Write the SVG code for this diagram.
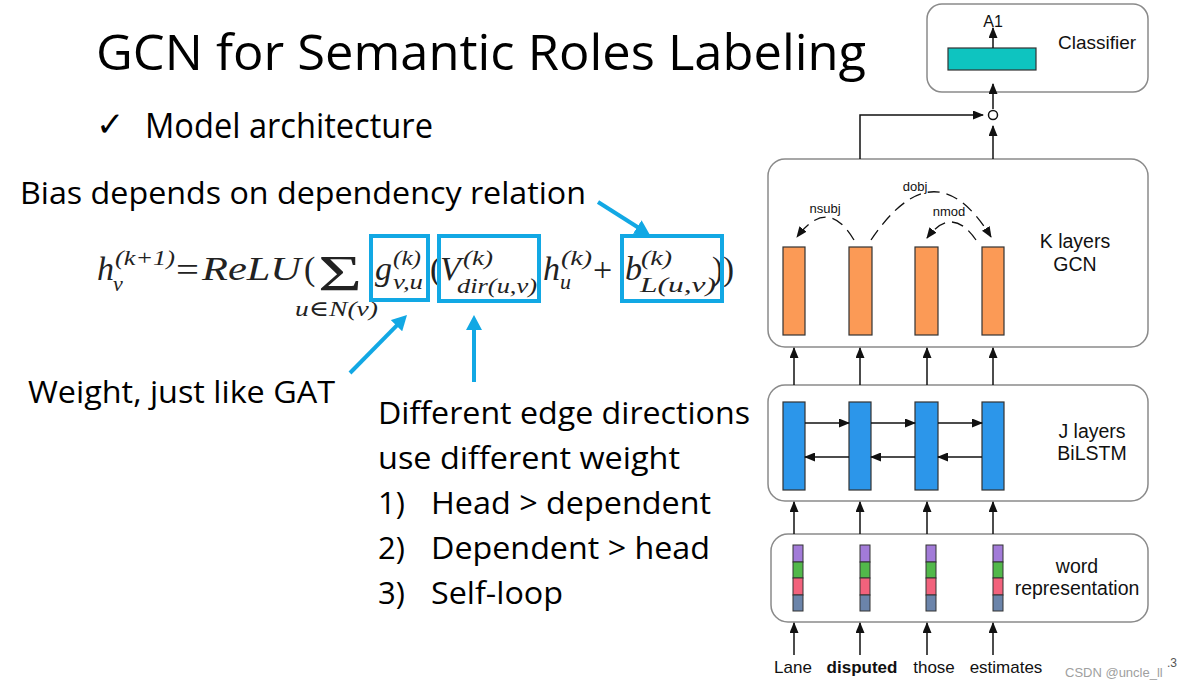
<svg xmlns="http://www.w3.org/2000/svg" width="1178" height="687" viewBox="0 0 1178 687">
<style>
.slide{font-family:"Open Sans","Liberation Sans",sans-serif;fill:#000}
.lbl{font-family:"Open Sans","Liberation Sans",sans-serif;font-size:31px;fill:#000}
.ar{font-family:"Liberation Sans",Arial,sans-serif;fill:#111}
.m{font-family:"Liberation Serif","DejaVu Serif",serif;font-style:italic;font-weight:normal;font-size:34px;fill:#222}
.mu{font-family:"Liberation Serif","DejaVu Serif",serif;font-weight:normal;font-size:34px;fill:#222}
.s{font-family:"Liberation Serif","DejaVu Serif",serif;font-style:italic;font-weight:normal;font-size:22px;fill:#222}
.box{fill:#fff;stroke:#8a8a8a;stroke-width:1.5}
.hl{fill:none;stroke:#12a8e4;stroke-width:4}
.bl{stroke:#12a8e4;stroke-width:4;fill:none;marker-end:url(#bh)}
.k{stroke:#111;stroke-width:1.5;fill:none;marker-end:url(#ah)}
.dash{stroke:#111;stroke-width:1.3;fill:none;stroke-dasharray:12 7;marker-end:url(#ah)}
.org{fill:#fb9a56;stroke:#333;stroke-width:1.2}
.blu{fill:#2c96ea;stroke:#333;stroke-width:1.2}
</style>
<defs>
<marker id="ah" markerUnits="userSpaceOnUse" markerWidth="11" markerHeight="9" refX="10" refY="4.5" orient="auto">
<path d="M0,0 L11,4.5 L0,9 z" fill="#111"/>
</marker>
<marker id="bh" markerUnits="userSpaceOnUse" markerWidth="16" markerHeight="16" refX="9" refY="8" orient="auto">
<path d="M0,0 L15,8 L0,16 z" fill="#12a8e4"/>
</marker>
</defs>
<rect width="1178" height="687" fill="#fff"/>

<g id="title"><text class="slide" x="96" y="70" font-size="49" textLength="770" lengthAdjust="spacingAndGlyphs">GCN for Semantic Roles Labeling</text></g>
<g id="bullet">
<text x="96" y="136" font-family="DejaVu Sans,sans-serif" font-size="34">✓</text>
<text class="slide" x="145" y="138" font-size="34" textLength="288" lengthAdjust="spacingAndGlyphs">Model architecture</text>
</g>
<g id="bias-label"><text class="lbl" x="20" y="204" textLength="566" lengthAdjust="spacingAndGlyphs">Bias depends on dependency relation</text></g>
<g id="weight-label"><text class="lbl" x="28" y="403" textLength="307" lengthAdjust="spacingAndGlyphs">Weight, just like GAT</text></g>
<g id="direction-label">
<text class="lbl" x="378" y="424" textLength="372" lengthAdjust="spacingAndGlyphs">Different edge directions</text>
<text class="lbl" x="378" y="469" textLength="302" lengthAdjust="spacingAndGlyphs">use different weight</text>
<text class="lbl" x="378" y="514">1)</text><text class="lbl" x="431" y="514" textLength="280" lengthAdjust="spacingAndGlyphs">Head &gt; dependent</text>
<text class="lbl" x="378" y="559">2)</text><text class="lbl" x="431" y="559" textLength="279" lengthAdjust="spacingAndGlyphs">Dependent &gt; head</text>
<text class="lbl" x="378" y="604">3)</text><text class="lbl" x="431" y="604" textLength="132" lengthAdjust="spacingAndGlyphs">Self-loop</text>
</g>

<g id="formula">
<text class="m" x="97" y="280">h</text>
<text class="s" x="115" y="265" textLength="60" lengthAdjust="spacingAndGlyphs">(k+1)</text>
<text class="s" x="113" y="291">v</text>
<text class="mu" x="176" y="281" textLength="23" lengthAdjust="spacingAndGlyphs">=</text>
<text class="m" x="202" y="280" textLength="99" lengthAdjust="spacingAndGlyphs">ReLU</text>
<text class="mu" x="304" y="280">(</text>
<text class="mu" x="318" y="290" style="font-size:50px" textLength="44" lengthAdjust="spacingAndGlyphs">Σ</text>
<text class="s" x="295" y="316" textLength="83" lengthAdjust="spacingAndGlyphs">u∈N(v)</text>
<text class="m" x="375" y="280">g</text>
<text class="s" x="393" y="265" textLength="28" lengthAdjust="spacingAndGlyphs">(k)</text>
<text class="s" x="393" y="289" textLength="30" lengthAdjust="spacingAndGlyphs">v,u</text>
<text class="mu" x="430" y="280">(</text>
<text class="m" x="440" y="280">V</text>
<text class="s" x="463" y="265" textLength="30" lengthAdjust="spacingAndGlyphs">(k)</text>
<text class="s" x="457" y="293" textLength="80" lengthAdjust="spacingAndGlyphs">dir(u,v)</text>
<text class="m" x="543" y="280">h</text>
<text class="s" x="561" y="265" textLength="31" lengthAdjust="spacingAndGlyphs">(k)</text>
<text class="s" x="560" y="289">u</text>
<text class="mu" x="593" y="281">+</text>
<text class="m" x="625" y="280">b</text>
<text class="s" x="641" y="265" textLength="31" lengthAdjust="spacingAndGlyphs">(k)</text>
<text class="s" x="640" y="292" textLength="76" lengthAdjust="spacingAndGlyphs">L(u,v)</text>
<text class="mu" x="712" y="280" textLength="22" lengthAdjust="spacingAndGlyphs">))</text>
</g>

<g id="highlights">
<rect class="hl" x="371" y="236" width="57" height="64"/>
<rect class="hl" x="439" y="236" width="100" height="65"/>
<rect class="hl" x="622" y="236" width="100" height="65"/>
</g>

<g id="classifier">
<rect class="box" x="927" y="4" width="221" height="88" rx="15"/>
<rect x="948" y="48" width="88" height="22" fill="#0ec4c0" stroke="#333" stroke-width="1.2"/>
<text class="ar" x="993" y="27" font-size="16" text-anchor="middle">A1</text>
<text class="ar" x="1058" y="49" font-size="19">Classifier</text>
</g>
<g id="combine"><circle cx="993" cy="115" r="4.5" fill="#fff" stroke="#111" stroke-width="1.5"/></g>

<g id="gcn">
<rect class="box" x="768" y="159" width="380" height="188" rx="17"/>
<rect class="org" x="783" y="247" width="22" height="88"/>
<rect class="org" x="849" y="247" width="23" height="88"/>
<rect class="org" x="915" y="247" width="23" height="88"/>
<rect class="org" x="982" y="247" width="22" height="88"/>
<text class="ar" x="1075" y="248" font-size="19.5" text-anchor="middle">K layers</text>
<text class="ar" x="1075" y="271" font-size="19.5" text-anchor="middle">GCN</text>
<text class="ar" x="825" y="213" font-size="13" text-anchor="middle">nsubj</text>
<text class="ar" x="915" y="191" font-size="13" text-anchor="middle">dobj</text>
<text class="ar" x="949" y="216" font-size="13" text-anchor="middle">nmod</text>
</g>

<g id="bilstm">
<rect class="box" x="768" y="385" width="380" height="116" rx="17"/>
<rect class="blu" x="783" y="402" width="22" height="88"/>
<rect class="blu" x="849" y="402" width="22" height="88"/>
<rect class="blu" x="915" y="402" width="23" height="88"/>
<rect class="blu" x="982" y="402" width="22" height="88"/>
<text class="ar" x="1092" y="438" font-size="19.5" text-anchor="middle">J layers</text>
<text class="ar" x="1092" y="460" font-size="19.5" text-anchor="middle">BiLSTM</text>
</g>

<g id="word-representation">
<rect class="box" x="771" y="534" width="377" height="88" rx="17"/>
<g stroke="#333" stroke-width="1">
<rect x="793" y="545" width="10" height="17" fill="#a27bd8"/><rect x="793" y="562" width="10" height="16" fill="#52b84a"/><rect x="793" y="578" width="10" height="17" fill="#f2627c"/><rect x="793" y="595" width="10" height="16" fill="#6b84aa"/>
<rect x="860" y="545" width="10" height="17" fill="#a27bd8"/><rect x="860" y="562" width="10" height="16" fill="#52b84a"/><rect x="860" y="578" width="10" height="17" fill="#f2627c"/><rect x="860" y="595" width="10" height="16" fill="#6b84aa"/>
<rect x="926" y="545" width="10" height="17" fill="#a27bd8"/><rect x="926" y="562" width="10" height="16" fill="#52b84a"/><rect x="926" y="578" width="10" height="17" fill="#f2627c"/><rect x="926" y="595" width="10" height="16" fill="#6b84aa"/>
<rect x="993" y="545" width="10" height="17" fill="#a27bd8"/><rect x="993" y="562" width="10" height="16" fill="#52b84a"/><rect x="993" y="578" width="10" height="17" fill="#f2627c"/><rect x="993" y="595" width="10" height="16" fill="#6b84aa"/>
</g>
<text class="ar" x="1077" y="573" font-size="19.5" text-anchor="middle">word</text>
<text class="ar" x="1077" y="595" font-size="19.5" text-anchor="middle">representation</text>
</g>

<g id="words">
<text class="ar" x="793" y="673" font-size="17" text-anchor="middle">Lane</text>
<text class="ar" x="862" y="673" font-size="17" font-weight="bold" text-anchor="middle">disputed</text>
<text class="ar" x="934" y="673" font-size="17" text-anchor="middle">those</text>
<text class="ar" x="1006" y="673" font-size="17" text-anchor="middle">estimates</text>
</g>
<g id="watermark">
<text x="1065" y="677" font-family="Liberation Sans,Arial,sans-serif" font-size="13" fill="#a0a0a0">CSDN @uncle_ll</text>
<text x="1167" y="667" font-family="Liberation Sans,Arial,sans-serif" font-size="12" fill="#555">.3</text>
</g>

<g id="connectors">
<line class="bl" x1="350" y1="373" x2="402.8" y2="319.3"/>
<line class="bl" x1="474" y1="382" x2="474" y2="321"/>
<line class="bl" x1="598" y1="202" x2="644.9" y2="231.8"/>

<line class="k" x1="993" y1="48" x2="993" y2="28"/>
<line class="k" x1="993" y1="109" x2="993" y2="84"/>
<line class="k" x1="993" y1="159" x2="993" y2="126"/>
<path class="k" d="M860,159 V115 H983"/>

<path class="dash" d="M854,240 Q828,196 797,237"/>
<path class="dash" d="M871,240 Q935,145 991,237"/>
<path class="dash" d="M976,240 Q952,205 927,238"/>

<line class="k" x1="794" y1="385" x2="794" y2="348"/>
<line class="k" x1="860" y1="385" x2="860" y2="348"/>
<line class="k" x1="927" y1="385" x2="927" y2="348"/>
<line class="k" x1="993" y1="385" x2="993" y2="348"/>

<line class="k" x1="805" y1="423" x2="849" y2="423"/>
<line class="k" x1="871" y1="423" x2="915" y2="423"/>
<line class="k" x1="938" y1="423" x2="982" y2="423"/>
<line class="k" x1="849" y1="457" x2="805" y2="457"/>
<line class="k" x1="915" y1="457" x2="871" y2="457"/>
<line class="k" x1="982" y1="457" x2="938" y2="457"/>

<line class="k" x1="794" y1="534" x2="794" y2="502"/>
<line class="k" x1="860" y1="534" x2="860" y2="502"/>
<line class="k" x1="927" y1="534" x2="927" y2="502"/>
<line class="k" x1="993" y1="534" x2="993" y2="502"/>

<line class="k" x1="794" y1="655" x2="794" y2="623"/>
<line class="k" x1="860" y1="655" x2="860" y2="623"/>
<line class="k" x1="927" y1="655" x2="927" y2="623"/>
<line class="k" x1="993" y1="655" x2="993" y2="623"/>
</g>
</svg>
